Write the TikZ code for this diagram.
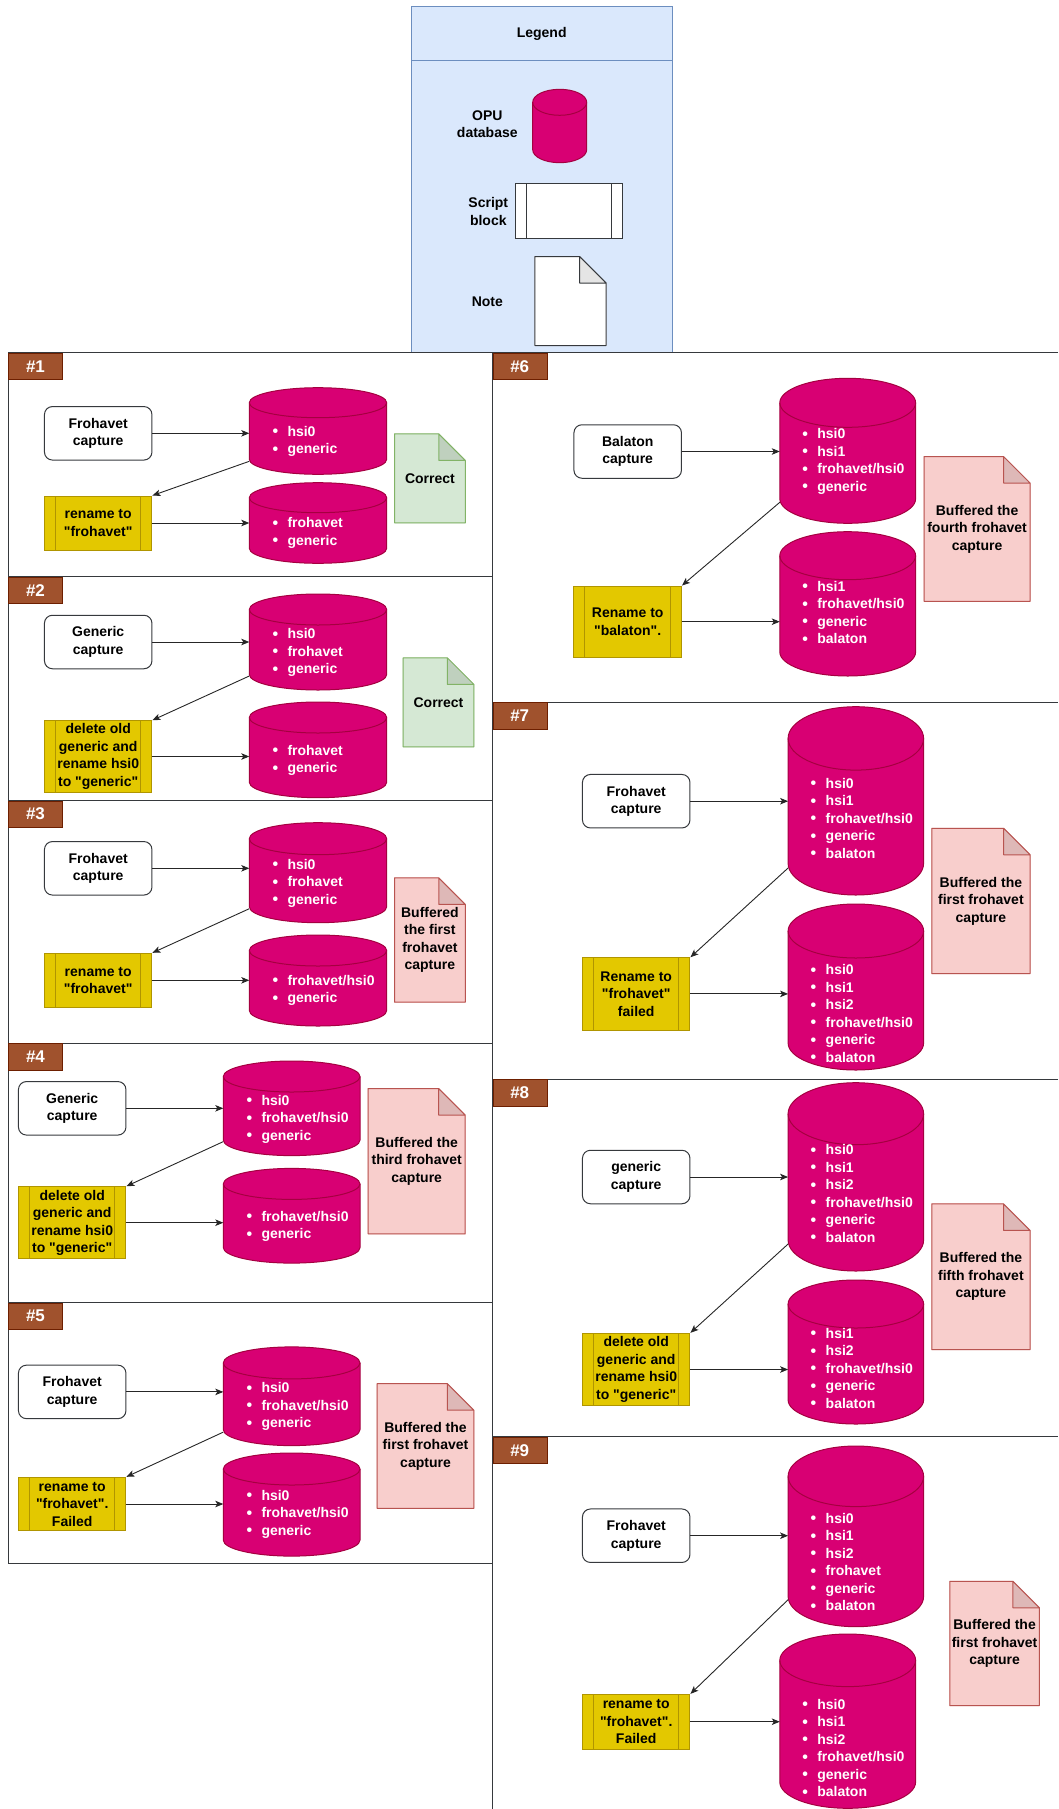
\documentclass[tikz,border=0pt]{standalone}
\usepackage{fontspec}
\setmainfont[Ligatures=TeXOff]{Liberation Sans}
\usetikzlibrary{arrows.meta}

\definecolor{dbfill}{HTML}{D80073}
\definecolor{dbline}{HTML}{A50040}
\definecolor{runfill}{HTML}{E3C800}
\definecolor{runline}{HTML}{B09500}
\definecolor{okfill}{HTML}{D5E8D4}
\definecolor{okline}{HTML}{82B366}
\definecolor{bufill}{HTML}{F8CECC}
\definecolor{buline}{HTML}{B85450}
\definecolor{lgfill}{HTML}{DAE8FC}
\definecolor{lgline}{HTML}{6C8EBF}
\definecolor{tabfill}{HTML}{A0522D}
\definecolor{tabline}{HTML}{6D1F00}
\definecolor{capline}{HTML}{36393D}

\newcommand{\dgfont}{\fontsize{14}{17.5}\selectfont\bfseries}
\newcommand{\dbitem}{\makebox[15pt][l]{\fontsize{16}{16}\selectfont\raisebox{-0.5pt}{\textbullet}}}
% OPU database: name, left, top, width, height, cap radius
\newcommand{\opudb}[6]{%
  \node[dbslot, anchor=north west, minimum width=#4, minimum height=#5] (#1) at (#2,-#3) {};
  \draw[dbbody] ([yshift=-#6]#1.north west) arc[start angle=180, end angle=0, x radius=#4/2, y radius=#6]
    -- ([yshift=#6]#1.south east) arc[start angle=0, end angle=-180, x radius=#4/2, y radius=#6] -- cycle;
  \draw[dbbody, fill=none] ([yshift=-#6]#1.north west) arc[start angle=180, end angle=360, x radius=#4/2, y radius=#6];
}

\tikzset{
  panel/.style={draw=capline, line width=1pt},
  numtab/.style={fill=tabfill, draw=tabline, text=white, font=\fontsize{17}{20}\selectfont\bfseries,
    minimum width=54pt, minimum height=26.5pt, inner sep=0pt, anchor=north west},
  capture/.style={draw=capline, fill=white, line width=1pt, rounded corners=8pt, minimum width=107.5pt,
    minimum height=53.5pt, inner sep=0pt, align=center, font=\dgfont},
  sidelines/.style={path picture={
    \draw[#1, line width=1pt] ([xshift=11]path picture bounding box.north west) -- ([xshift=11]path picture bounding box.south west)
      ([xshift=-11]path picture bounding box.north east) -- ([xshift=-11]path picture bounding box.south east);}},
  runblock/.style={fill=runfill, draw=runline, line width=1pt, sidelines=runline, minimum width=107.5pt,
    minimum height=54pt, inner sep=0pt, align=center, font=\dgfont},
  dbslot/.style={inner sep=0pt, outer sep=0pt},
  dbbody/.style={fill=dbfill, draw=dbline, line width=1pt},
  dblist/.style={text=white, font=\dgfont, align=left, inner sep=0pt, anchor=west},
  memo/.style 2 args={inner sep=0pt, align=center, font=\dgfont,
    path picture={
      \path (path picture bounding box.north east) coordinate (mne) (path picture bounding box.south west) coordinate (msw)
        (path picture bounding box.south east) coordinate (mse);
      \fill[#1] (msw) |- ([xshift=-27]mne) -- ([yshift=-27]mne) -- (mse) -- cycle;
      \fill[black, opacity=0.1] ([xshift=-27]mne) -- ([shift={(-27,-27)}]mne) -- ([yshift=-27]mne) -- cycle;
      \draw[#2, line width=1pt, line join=round] ([shift={(0.5,0.5)}]msw) |- ([shift={(-27,-0.5)}]mne)
        -- ([shift={(-0.5,-27)}]mne) -- ([shift={(-0.5,0.5)}]mse) -- cycle
        ([shift={(-27,-0.5)}]mne) -- ([shift={(-27,-27)}]mne) -- ([shift={(-0.5,-27)}]mne);}},
  flow/.style={-{Stealth[length=8pt,width=6.5pt,inset=2pt]}, line width=0.9pt, black!85},
}

\begin{document}
\begin{tikzpicture}[x=1pt,y=1pt]
  \useasboundingbox (0,0) rectangle (1058,-1809);

  % legend
  \draw[fill=lgfill, draw=lgline, line width=1pt] (411.7,-7) rectangle (672,-352.7);
  \draw[draw=lgline, line width=1pt] (411.7,-61) -- (672,-61);
  \node[font=\dgfont] (lgtitle) at (541.7,-34) {Legend};
  \opudb{lgdb}{532.7}{89.3}{54}{73.4}{13}
  \node[font=\dgfont, align=center] (lgdbtxt) at (487.3,-124.2) {OPU\\database};
  \node[runblock, fill=white, draw=capline, sidelines=capline, minimum height=55.4pt] (lgrun) at (568.8,-211) {};
  \node[font=\dgfont, align=center] (lgruntxt) at (488.3,-211.7) {Script\\block};
  \node[memo={white}{capline}, minimum width=72.4pt, minimum height=90pt] (lgnote) at (570.5,-301) {};
  \node[font=\dgfont] (lgnotetxt) at (487.3,-301.7) {Note};

  % panels
  \foreach \ya/\yb/\k in {352.7/576.7/1,576.7/800.7/2,800.7/1043.3/3,1043.3/1302.7/4,1302.7/1563.3/5}{
    \draw[panel] (8.3,-\ya) rectangle (492.5,-\yb);
    \node[numtab] (tab\k) at (8.3,-\ya) {\#\k};
  }
  \draw[panel] (1058,-352.7) -- (492.5,-352.7) -- (492.5,-1809);
  \foreach \ya/\k in {352.7/6,702.2/7,1079/8,1436.7/9}{
    \draw[panel] (492.5,-\ya) -- (1058,-\ya);
    \node[numtab] (tab\k) at (492.5,-\ya) {\#\k};
  }

  % #1
  \node[capture] (cap1) at (98.2,-433.3) {Frohavet\\capture};
  \node[runblock] (run1) at (98.2,-523) {rename to\\"frohavet"};
  \opudb{db1a}{249.3}{387.7}{137.4}{86.6}{15}
  \node[dblist] (ls1a) at (272.3,-441.5) {\dbitem hsi0\\\dbitem generic};
  \opudb{db1b}{249.3}{482.7}{137.4}{80.6}{15}
  \node[dblist] (ls1b) at (272.3,-532.8) {\dbitem frohavet\\\dbitem generic};
  \node[memo={okfill}{okline}, minimum width=71.7pt, minimum height=90pt] (nt1) at (429.9,-478.3) {Correct};
  \draw[flow] (cap1.east) -- (cap1.east -| db1a.west);
  \draw[flow] ([yshift=13]db1a.south west) -- (run1.north east);
  \draw[flow] (run1.east) -- (run1.east -| db1b.west);

  % #2
  \node[capture] (cap2) at (98.2,-642) {Generic\\capture};
  \node[runblock, minimum height=71.6pt] (run2) at (98.2,-756.5) {delete old\\generic and\\rename hsi0\\to "generic"};
  \opudb{db2a}{249.3}{594}{137.4}{96}{15.5}
  \node[dblist] (ls2a) at (272.3,-652.5) {\dbitem hsi0\\\dbitem frohavet\\\dbitem generic};
  \opudb{db2b}{249.3}{702}{137.4}{95.7}{15.5}
  \node[dblist] (ls2b) at (272.3,-760.2) {\dbitem frohavet\\\dbitem generic};
  \node[memo={okfill}{okline}, minimum width=71.6pt, minimum height=90pt] (nt2) at (438.5,-702.3) {Correct};
  \draw[flow] (cap2.east) -- (cap2.east -| db2a.west);
  \draw[flow] ([yshift=14]db2a.south west) -- (run2.north east);
  \draw[flow] (run2.east) -- (run2.east -| db2b.west);

  % #3
  \node[capture] (cap3) at (98.2,-868.3) {Frohavet\\capture};
  \node[runblock] (run3) at (98.2,-980.3) {rename to\\"frohavet"};
  \opudb{db3a}{249.3}{822.7}{137.4}{100}{16}
  \node[dblist] (ls3a) at (272.3,-883) {\dbitem hsi0\\\dbitem frohavet\\\dbitem generic};
  \opudb{db3b}{249.3}{935}{137.4}{91}{15.5}
  \node[dblist] (ls3b) at (272.3,-990.2) {\dbitem frohavet/hsi0\\\dbitem generic};
  \node[memo={bufill}{buline}, minimum width=71.7pt, minimum height=125.4pt] (nt3) at (429.9,-940) {Buffered\\the first\\frohavet\\capture};
  \draw[flow] (cap3.east) -- (cap3.east -| db3a.west);
  \draw[flow] ([yshift=14]db3a.south west) -- (run3.north east);
  \draw[flow] (run3.east) -- (run3.east -| db3b.west);

  % #4
  \node[capture] (cap4) at (72.2,-1108.3) {Generic\\capture};
  \node[runblock, minimum height=72pt] (run4) at (72.2,-1222.7) {delete old\\generic and\\rename hsi0\\to "generic"};
  \opudb{db4a}{223.3}{1061}{136.7}{94.6}{15.5}
  \node[dblist] (ls4a) at (246.3,-1119) {\dbitem hsi0\\\dbitem frohavet/hsi0\\\dbitem generic};
  \opudb{db4b}{223.3}{1168.4}{136.7}{94.7}{15.5}
  \node[dblist] (ls4b) at (246.3,-1226.3) {\dbitem frohavet/hsi0\\\dbitem generic};
  \node[memo={bufill}{buline}, minimum width=98pt, minimum height=146.4pt] (nt4) at (416.7,-1161.2) {Buffered the\\third frohavet\\capture};
  \draw[flow] (cap4.east) -- (cap4.east -| db4a.west);
  \draw[flow] ([yshift=14]db4a.south west) -- (run4.north east);
  \draw[flow] (run4.east) -- (run4.east -| db4b.west);

  % #5
  \node[capture] (cap5) at (72.2,-1391.9) {Frohavet\\capture};
  \node[runblock, minimum height=53.4pt] (run5) at (72.2,-1504) {rename to\\"frohavet".\\Failed};
  \opudb{db5a}{223.3}{1346.9}{136.7}{98.7}{16}
  \node[dblist] (ls5a) at (246.3,-1406.7) {\dbitem hsi0\\\dbitem frohavet/hsi0\\\dbitem generic};
  \opudb{db5b}{223.3}{1453}{136.7}{103.1}{16}
  \node[dblist] (ls5b) at (246.3,-1514) {\dbitem hsi0\\\dbitem frohavet/hsi0\\\dbitem generic};
  \node[memo={bufill}{buline}, minimum width=97.6pt, minimum height=125.7pt] (nt5) at (425.5,-1446) {Buffered the\\first frohavet\\capture};
  \draw[flow] (cap5.east) -- (cap5.east -| db5a.west);
  \draw[flow] ([yshift=13.5]db5a.south west) -- (run5.north east);
  \draw[flow] (run5.east) -- (run5.east -| db5b.west);

  % #6
  \node[capture] (cap6) at (627.7,-451.5) {Balaton\\capture};
  \node[runblock, minimum height=71.3pt] (run6) at (627.7,-621.7) {Rename to\\"balaton".};
  \opudb{db6a}{779.8}{378.3}{135.8}{145}{24.5}
  \node[dblist] (ls6a) at (802.1,-461.5) {\dbitem hsi0\\\dbitem hsi1\\\dbitem frohavet/hsi0\\\dbitem generic};
  \opudb{db6b}{779.8}{531.7}{135.8}{144.3}{24}
  \node[dblist] (ls6b) at (802.1,-612.5) {\dbitem hsi1\\\dbitem frohavet/hsi0\\\dbitem generic\\\dbitem balaton};
  \node[memo={bufill}{buline}, minimum width=106.9pt, minimum height=145.7pt] (nt6) at (977.1,-528.9) {Buffered the\\fourth frohavet\\capture};
  \draw[flow] (cap6.east) -- (cap6.east -| db6a.west);
  \draw[flow] ([yshift=21]db6a.south west) -- (run6.north east);
  \draw[flow] (run6.east) -- (run6.east -| db6b.west);

  % #7
  \node[capture] (cap7) at (636.2,-801.2) {Frohavet\\capture};
  \node[runblock, minimum height=72.3pt] (run7) at (636.2,-993.9) {Rename to\\"frohavet"\\failed};
  \opudb{db7a}{788.1}{706.7}{135.5}{188.3}{31.7}
  \node[dblist] (ls7a) at (810.5,-818.3) {\dbitem hsi0\\\dbitem hsi1\\\dbitem frohavet/hsi0\\\dbitem generic\\\dbitem balaton};
  \opudb{db7b}{788.1}{904}{135.5}{166}{27}
  \node[dblist] (ls7b) at (810.5,-1013.7) {\dbitem hsi0\\\dbitem hsi1\\\dbitem hsi2\\\dbitem frohavet/hsi0\\\dbitem generic\\\dbitem balaton};
  \node[memo={bufill}{buline}, minimum width=99.3pt, minimum height=146.3pt] (nt7) at (980.9,-900.9) {Buffered the\\first frohavet\\capture};
  \draw[flow] (cap7.east) -- (cap7.east -| db7a.west);
  \draw[flow] ([yshift=27]db7a.south west) -- (run7.north east);
  \draw[flow] (run7.east) -- (run7.east -| db7b.west);

  % #8
  \node[capture] (cap8) at (636.2,-1177) {generic\\capture};
  \node[runblock, minimum height=72.4pt] (run8) at (636.2,-1369.5) {delete old\\generic and\\rename hsi0\\to "generic"};
  \opudb{db8a}{788.1}{1082.7}{135.5}{188.3}{31}
  \node[dblist] (ls8a) at (810.5,-1193.8) {\dbitem hsi0\\\dbitem hsi1\\\dbitem hsi2\\\dbitem frohavet/hsi0\\\dbitem generic\\\dbitem balaton};
  \opudb{db8b}{788.1}{1280}{135.5}{144}{24}
  \node[dblist] (ls8b) at (810.5,-1368.5) {\dbitem hsi1\\\dbitem hsi2\\\dbitem frohavet/hsi0\\\dbitem generic\\\dbitem balaton};
  \node[memo={bufill}{buline}, minimum width=99.3pt, minimum height=146.7pt] (nt8) at (980.9,-1276.7) {Buffered the\\fifth frohavet\\capture};
  \draw[flow] (cap8.east) -- (cap8.east -| db8a.west);
  \draw[flow] ([yshift=27]db8a.south west) -- (run8.north east);
  \draw[flow] (run8.east) -- (run8.east -| db8b.west);

  % #9
  \node[capture] (cap9) at (636.2,-1535.7) {Frohavet\\capture};
  \node[runblock, minimum height=54.7pt] (run9) at (636.2,-1721.7) {rename to\\"frohavet".\\Failed};
  \opudb{db9a}{788.1}{1446}{135.5}{180.7}{30.3}
  \node[dblist] (ls9a) at (810.5,-1562.3) {\dbitem hsi0\\\dbitem hsi1\\\dbitem hsi2\\\dbitem frohavet\\\dbitem generic\\\dbitem balaton};
  \opudb{db9b}{779.8}{1634}{135.8}{174.3}{26.3}
  \node[dblist] (ls9b) at (802.1,-1748) {\dbitem hsi0\\\dbitem hsi1\\\dbitem hsi2\\\dbitem frohavet/hsi0\\\dbitem generic\\\dbitem balaton};
  \node[memo={bufill}{buline}, minimum width=90.6pt, minimum height=125.3pt] (nt9) at (994.6,-1643.4) {Buffered the\\first frohavet\\capture};
  \draw[flow] (cap9.east) -- (cap9.east -| db9a.west);
  \draw[flow] ([yshift=27]db9a.south west) -- (run9.north east);
  \draw[flow] (run9.east) -- (run9.east -| db9b.west);
\end{tikzpicture}
\end{document}
